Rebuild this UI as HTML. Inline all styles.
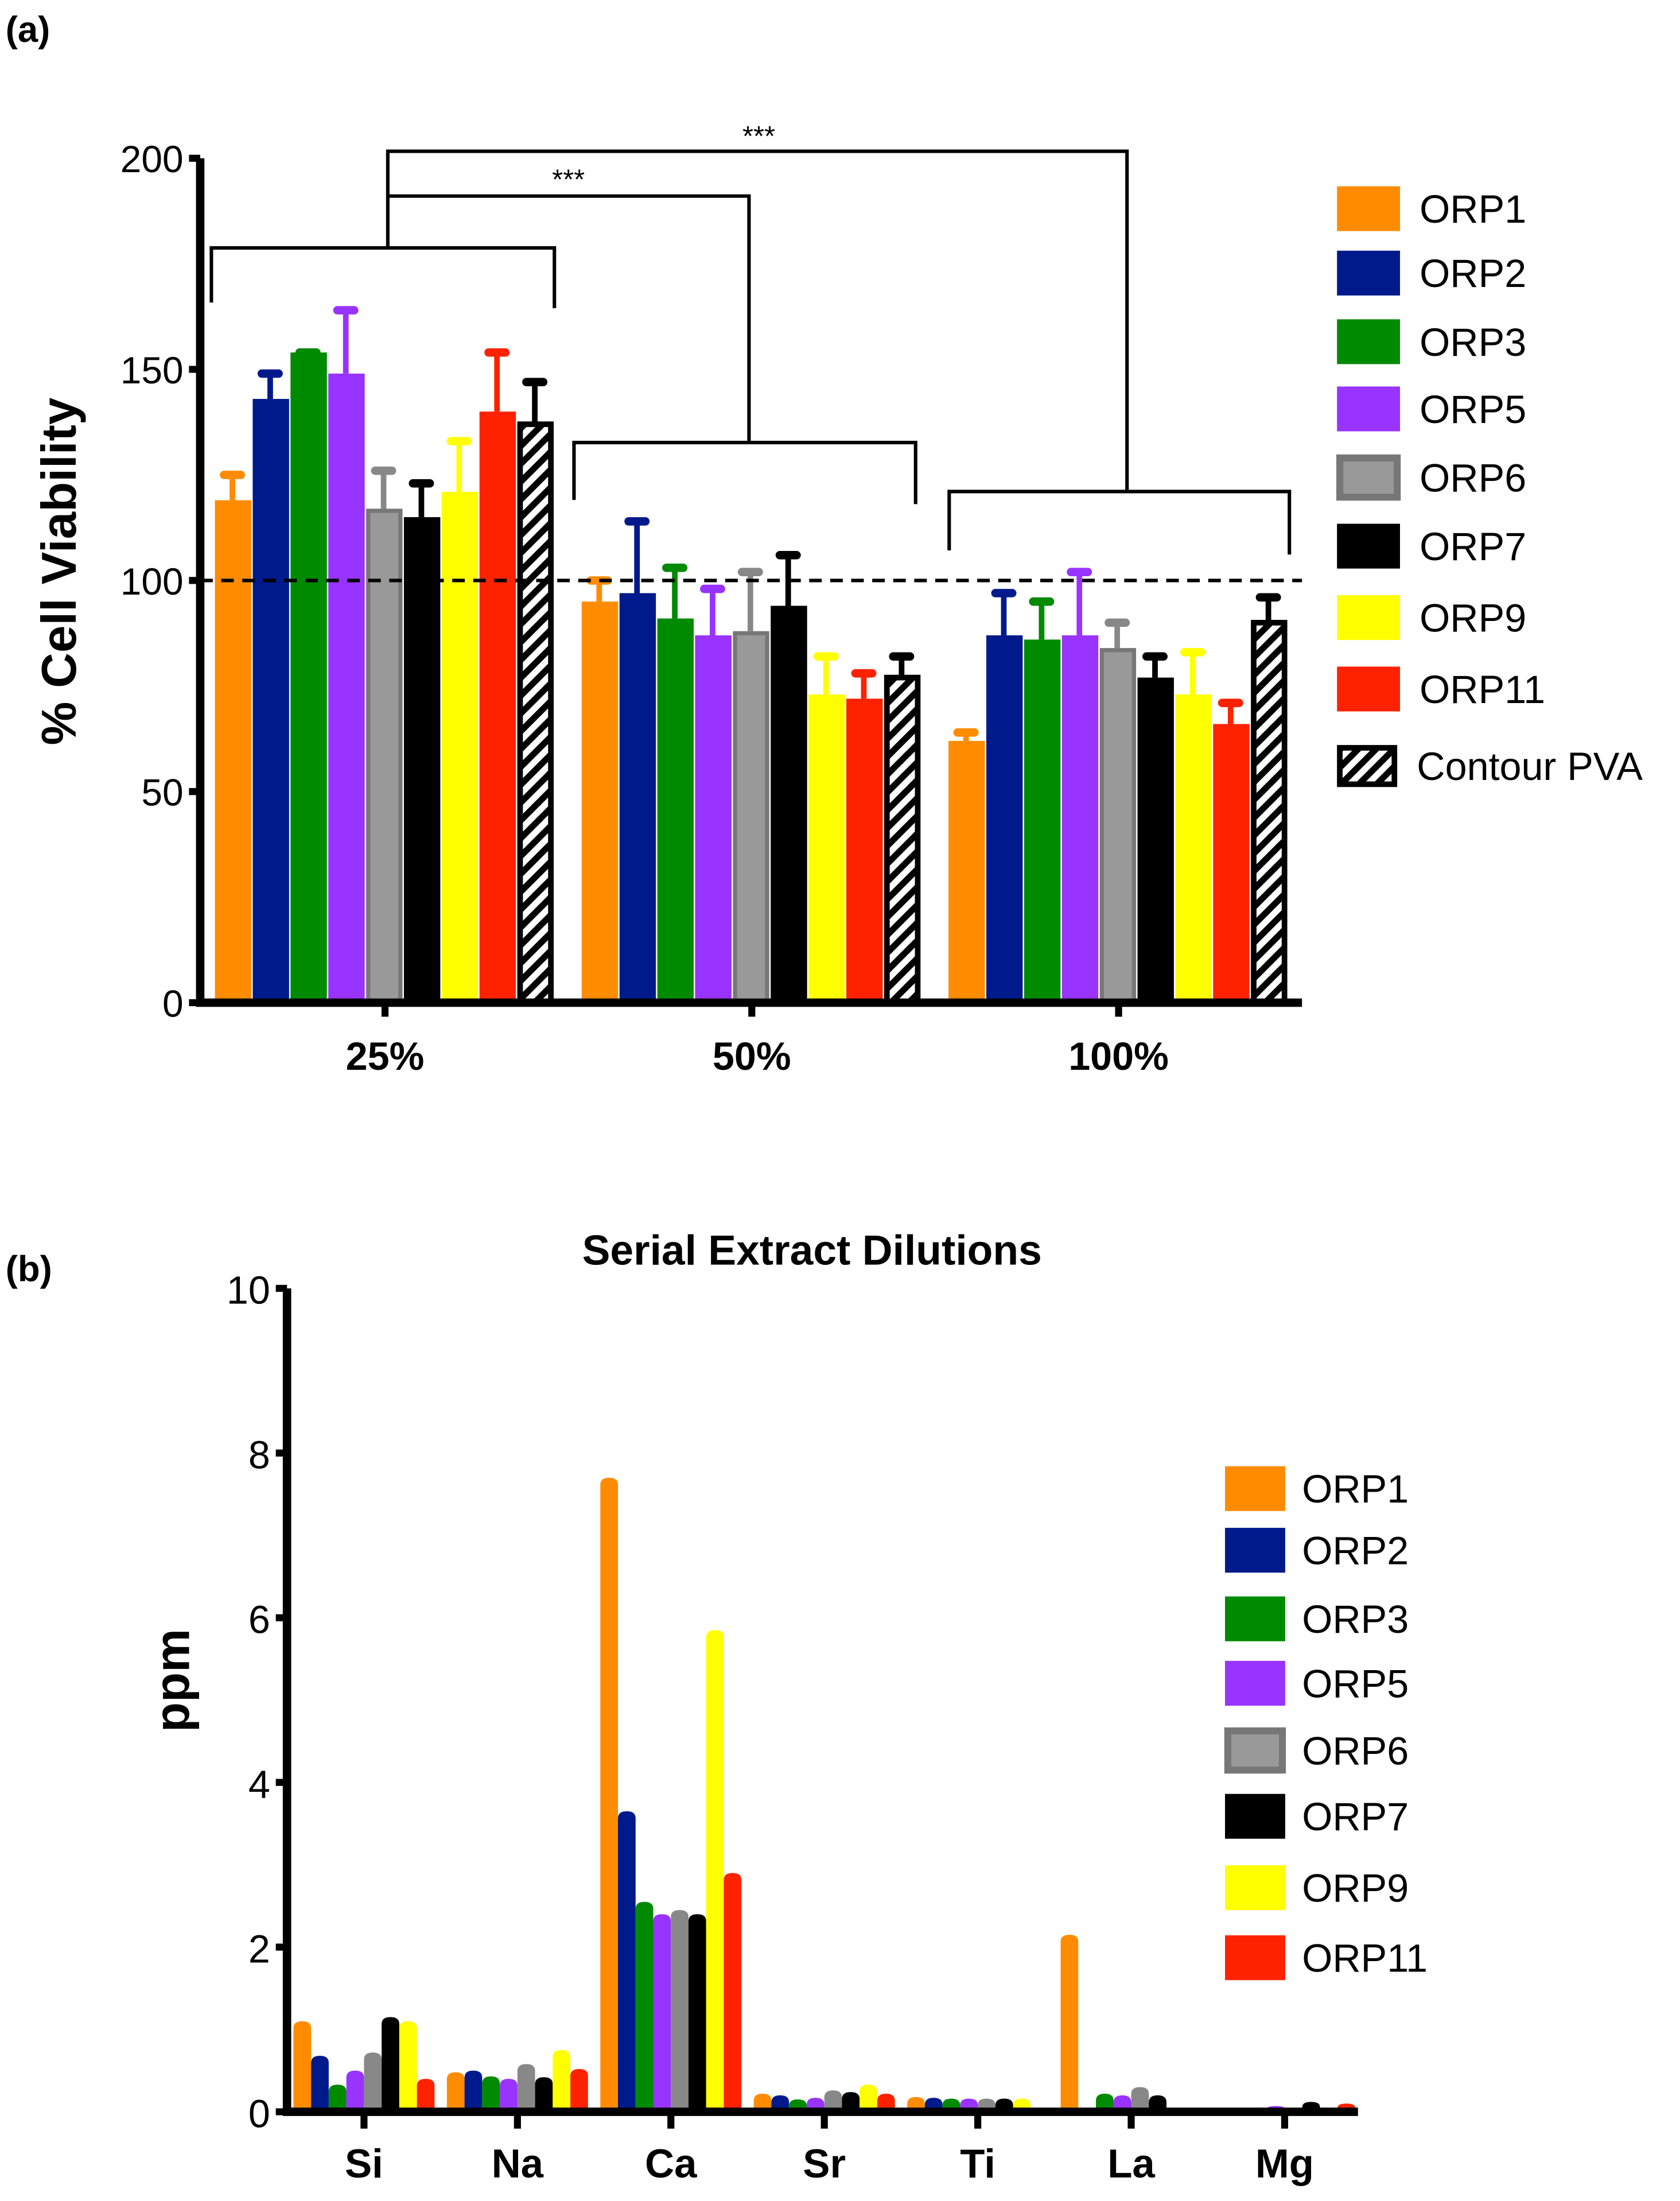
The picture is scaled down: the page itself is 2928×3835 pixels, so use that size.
<!DOCTYPE html>
<html><head><meta charset="utf-8"><style>html,body{margin:0;padding:0;background:#fff}svg{display:block}text{font-family:"Liberation Sans",sans-serif}</style></head>
<body>
<svg id="fig" xmlns="http://www.w3.org/2000/svg" width="2928" height="3835" viewBox="0 0 1200 1571.7">
<defs>
<pattern id="hatch" patternUnits="userSpaceOnUse" width="9" height="9" patternTransform="rotate(45)">
<rect width="9" height="9" fill="#fff"/><rect width="4.5" height="9" fill="#000"/>
</pattern>
</defs>
<text x="4" y="30" font-size="26" font-weight="bold">(a)</text>
<text x="4" y="915" font-size="26" font-weight="bold">(b)</text>
<g id="ga"></g>
<g id="gb"></g>
</svg>
<script>
const NS="http://www.w3.org/2000/svg";
// ---- chart a data ----
const aCategories=["25%","50%","100%"];
const aSeries=["ORP1","ORP2","ORP3","ORP5","ORP6","ORP7","ORP9","ORP11","Contour PVA"];
const aMeans=[[119,143,154,149,117,115,121,140,137],[95,97,91,87,88,94,73,72,77],[62,87,86,87,84,77,73,66,90]];
const aErrTop=[[125,149,154,164,126,123,133,154,147],[100,114,103,98,102,106,82,78,82],[64,97,95,102,90,82,83,71,96]];
const aTicks=[0,50,100,150,200];
// ---- chart b data ----
const bCategories=["Si","Na","Ca","Sr","Ti","La","Mg"];
const bSeries=["ORP1","ORP2","ORP3","ORP5","ORP6","ORP7","ORP9","ORP11"];
const bValues=[[1.1,0.68,0.33,0.5,0.72,1.15,1.1,0.4],[0.48,0.5,0.43,0.4,0.58,0.42,0.75,0.52],[7.7,3.65,2.55,2.4,2.45,2.4,5.85,2.9],[0.22,0.2,0.15,0.17,0.26,0.24,0.33,0.22],[0.18,0.17,0.16,0.16,0.16,0.16,0.16,0],[2.15,0,0.22,0.2,0.3,0.2,0,0],[0.02,0.01,0.05,0.07,0,0.12,0.04,0.1]];
const bTicks=[0,2,4,6,8,10];
const colors=["#FF8C00","#001A8C","#008A00","#9933FF","#888888","#000000","#FFFF00","#FF2200","url(#hatch)"];

function el(tag,attrs,parent,txt){const e=document.createElementNS(NS,tag);for(const k in attrs)e.setAttribute(k,attrs[k]);if(txt!==undefined)e.textContent=txt;parent.appendChild(e);return e;}

// ===== Chart A =====
const ga=document.getElementById('ga');
const aX0=143,aX1=930,aY0=716,aY1=113;
const ay=v=>aY0-(v/200)*(aY0-aY1);
const aGroupCenter=i=>275+i*262;
const aBarW=27;
const abx=(g,s)=>aGroupCenter(g)-(aSeries.length*aBarW)/2+s*aBarW;
aMeans.forEach((grp,g)=>{grp.forEach((v,s)=>{
  const x=abx(g,s),c=colors[s];
  const et=el('line',{x1:x+aBarW/2-1,x2:x+aBarW/2-1,y1:ay(v),y2:ay(aErrTop[g][s]),stroke:s===8?'#000':c,'stroke-width':4},ga);
  
  
  const cap=el('line',{x1:x+aBarW/2-7,x2:x+aBarW/2+5,y1:ay(aErrTop[g][s]),y2:ay(aErrTop[g][s]),stroke:s===8?'#000':c,'stroke-width':6,'stroke-linecap':'round'},ga);
  
  
  let r;
  if(s===8){r=el('rect',{x:x+2,y:ay(v),width:aBarW-5,height:aY0-ay(v),fill:'url(#hatch)',stroke:'#000','stroke-width':4},ga);}
  else if(s===4){r=el('rect',{x:x+1.5,y:ay(v)+1.5,width:aBarW-4,height:aY0-ay(v)-1.5,fill:'#999',stroke:'#777','stroke-width':3},ga);}
  else r=el('rect',{x:x,y:ay(v),width:aBarW-1,height:aY0-ay(v),fill:c},ga);
  
  
});});
// dashed 100 line
const dl=el('line',{x1:aX0,x2:aX1,y1:ay(100),y2:ay(100),stroke:'#000','stroke-width':2.5,'stroke-dasharray':'9,6'},ga);


// axes
const aax=el('path',{d:`M${aX0},${aY1} V${aY0} H${aX1}`,stroke:'#000','stroke-width':6,fill:'none'},ga);


aTicks.forEach(t=>{
  const tk=el('line',{x1:aX0-8,x2:aX0,y1:ay(t),y2:ay(t),stroke:'#000','stroke-width':5},ga);
  
  
  const tl=el('text',{x:aX0-12,y:ay(t)+10,'font-size':27,'text-anchor':'end'},ga,String(t));
  
  
});
aCategories.forEach((c,i)=>{
  const tk=el('line',{x1:aGroupCenter(i),x2:aGroupCenter(i),y1:aY0,y2:aY0+10,stroke:'#000','stroke-width':5},ga);
  
  
  const tl=el('text',{x:aGroupCenter(i),y:764,'font-size':28,'font-weight':'bold','text-anchor':'middle'},ga,c);
  
  
});
const at=el('text',{x:0,y:0,'font-size':35,'font-weight':'bold','text-anchor':'middle',transform:'translate(54,408) rotate(-90)'},ga,'% Cell Viability');


// brackets
const br=[
 `M151,216 V177 H396 V220`,`M410,357 V316 H654 V360`,`M678,393 V351 H921 V396`,
 `M277,177 V108 H805 V351`,`M277,140 H535 V316`];
br.forEach(d=>{const p=el('path',{d:d,stroke:'#000','stroke-width':2.5,fill:'none'},ga);
 
 });
[[406,135],[542,104]].forEach(([x,y])=>{const t=el('text',{x:x,y:y,'font-size':20,'text-anchor':'middle'},ga,'***');
 
 });
// legend a
const aLegY=[149,195,244,292,341,390,441,492,547];
aSeries.forEach((s,i)=>{
  const y=aLegY[i];let r;
  if(i===8)r=el('rect',{x:957,y:y-13,width:39,height:26,fill:'url(#hatch)',stroke:'#000','stroke-width':4},ga);
  else if(i===4)r=el('rect',{x:957,y:y-14,width:41,height:28,fill:'#999',stroke:'#777','stroke-width':5},ga);
  else r=el('rect',{x:955,y:y-16,width:45,height:32,fill:colors[i]},ga);
  
  
  const t=el('text',{x:i===8?1012:1014,y:y+10,'font-size':28},ga,s);
  
  
});

// ===== Chart B =====
const gb=document.getElementById('gb');
const bX0=205,bX1=970,bY0=1508,bY1=920;
const by=v=>bY0-(v/10)*(bY0-bY1);
const bCenter=i=>260+i*109.6;
const bBarW=12.6;
bValues.forEach((grp,g)=>{grp.forEach((v,s)=>{
  if(v<=0)return;
  const x=bCenter(g)-(bSeries.length*bBarW)/2+s*bBarW;
  const top=by(v),h=bY0-top,rad=Math.min(5,h/2);
  const d=`M${x},${bY0} V${top+rad} Q${x},${top} ${x+bBarW/2},${top} Q${x+bBarW},${top} ${x+bBarW},${top+rad} V${bY0} Z`;
  const p=el('path',{d:d,fill:s===4?'#888':colors[s]},gb);
  
  
});});
const bax=el('path',{d:`M${bX0},${bY1} V${bY0} H${bX1}`,stroke:'#000','stroke-width':6,fill:'none'},gb);


bTicks.forEach(t=>{
  const tk=el('line',{x1:bX0-8,x2:bX0,y1:by(t),y2:by(t),stroke:'#000','stroke-width':5},gb);
  
  
  const tl=el('text',{x:bX0-12,y:by(t)+11,'font-size':28,'text-anchor':'end'},gb,String(t));
  
  
});
bCategories.forEach((c,i)=>{
  const tk=el('line',{x1:bCenter(i),x2:bCenter(i),y1:bY0,y2:bY0+12,stroke:'#000','stroke-width':5},gb);
  
  
  const tl=el('text',{x:bCenter(i),y:1555,'font-size':29,'font-weight':'bold','text-anchor':'middle'},gb,c);
  
  
});
const bt=el('text',{x:580,y:903,'font-size':30,'font-weight':'bold','text-anchor':'middle'},gb,'Serial Extract Dilutions');


const byt=el('text',{x:0,y:0,'font-size':35,'font-weight':'bold','text-anchor':'middle',transform:'translate(135,1200) rotate(-90)'},gb,'ppm');


const bLegY=[1063,1107,1156,1202,1250,1297,1348,1398];
bSeries.forEach((s,i)=>{
  const y=bLegY[i];let r;
  if(i===4)r=el('rect',{x:877,y:y-14,width:39,height:28,fill:'#999',stroke:'#777','stroke-width':5},gb);
  else r=el('rect',{x:875,y:y-16,width:43,height:32,fill:colors[i]},gb);
  
  
  const t=el('text',{x:930,y:y+10,'font-size':28},gb,s);
  
  
});
</script>
</body></html>
